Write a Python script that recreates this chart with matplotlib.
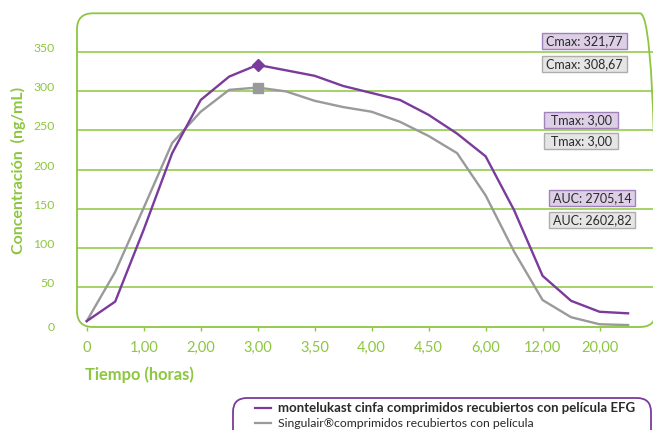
import numpy as np
import matplotlib
matplotlib.use("Agg")
import matplotlib.pyplot as plt
from matplotlib.patches import FancyBboxPatch, Rectangle
from matplotlib.lines import Line2D
from matplotlib.transforms import IdentityTransform, ScaledTranslation

# ---------------- data ----------------
time_labels = ["0", "0,50", "1,00", "1,50", "2,00", "2,50", "3,00", "3,25", "3,50", "3,75",
               "4,00", "4,25", "4,50", "5,00", "6,00", "8,00", "12,00", "16,00", "20,00", "24,00"]
montelukast_cinfa = [6, 31, 123, 221, 289, 319, 334, 327, 320, 307,
                     298, 289, 270, 246, 217, 148, 64, 32, 18, 16]
singulair = [6, 69, 151, 234, 274, 302, 305, 300, 288, 280,
             274, 261, 243, 221, 167, 95, 33, 11, 2, 1]
y_ticks = [0, 50, 100, 150, 200, 250, 300, 350]
series_names = ["montelukast cinfa comprimidos recubiertos con película EFG",
                "Singulair®comprimidos recubiertos con película"]
stats_test = ["Cmax: 321,77", "Tmax: 3,00", "AUC: 2705,14"]
stats_ref = ["Cmax: 308,67", "Tmax: 3,00", "AUC: 2602,82"]

# ---------------- style ----------------
GREEN = "#8DC63F"
PURPLE = "#7A3B9C"
GRAY = "#9A9A9A"
P_FILL, P_EDGE = "#DCCFE6", "#A083BA"
G_FILL, G_EDGE = "#E5E5E5", "#ADADAD"
TXT = "#2A2A2A"
FONT = "Lato"
plt.rcParams["font.family"] = [FONT, "DejaVu Sans"]

W, H = 653, 430
fig = plt.figure(figsize=(W / 100, H / 100), dpi=100)

def fx(px):
    return px / W

def fy(py):
    return 1 - py / H

BOX_L, BOX_R, BOX_T, BOX_B = 77, 656, 13.3, 327
ax = fig.add_axes([fx(BOX_L), fy(BOX_B), (BOX_R - BOX_L) / W, (BOX_B - BOX_T) / H])
ax.patch.set_visible(False)
for s in ax.spines.values():
    s.set_visible(False)

x = np.arange(len(time_labels))
ax.set_xlim(-0.34, 19.98)
ax.set_ylim(-1.5, 400)

# rounded plot frame
frame = FancyBboxPatch((BOX_L, H - BOX_B), BOX_R - BOX_L, BOX_B - BOX_T,
                       boxstyle="round,pad=0,rounding_size=16",
                       transform=IdentityTransform(), fill=False,
                       ec=GREEN, lw=1.3, zorder=1)
fig.add_artist(frame)

# grid lines
ax.hlines([v for v in y_ticks if v > 0], 0, 1, transform=ax.get_yaxis_transform(),
          color=GREEN, lw=1.1, zorder=1)

# series
ax.plot(x, montelukast_cinfa, color=PURPLE, lw=1.7, zorder=3)
ax.plot(x, singulair, color=GRAY, lw=1.7, zorder=2)
ip = int(np.argmax(montelukast_cinfa))
ig = int(np.argmax(singulair))
ax.plot(x[ip], montelukast_cinfa[ip], marker="D", ms=6.5, color=PURPLE, zorder=4)
ax.plot(x[ig], singulair[ig], marker="s", ms=6.5, color=GRAY, zorder=4)

# x ticks
ax.set_xticks(x[::2])
ax.set_xticklabels(time_labels[::2])
ax.tick_params(axis="x", length=3, width=1, color=GREEN, labelcolor=GREEN,
               labelsize=10.5, pad=7, direction="out")
# y ticks
ax.set_yticks(y_ticks)
ax.set_yticklabels([str(v) for v in y_ticks])
ax.tick_params(axis="y", length=0, labelcolor=GREEN, labelsize=8.8, pad=16)
for lab, v in zip(ax.get_yticklabels(), y_ticks):
    dy = 4.5 if v > 0 else -1.0
    lab.set_transform(lab.get_transform() + ScaledTranslation(0, dy / 100, fig.dpi_scale_trans))

ax.set_ylabel("Concentración  (ng/mL)", color=GREEN, fontsize=11.5, fontweight="bold",
              va="center")
ax.yaxis.set_label_coords((18 - BOX_L) / (BOX_R - BOX_L), (BOX_B - 170) / (BOX_B - BOX_T))
ax.set_xlabel("Tiempo (horas)", color=GREEN, fontsize=11.9, fontweight="bold",
              ha="left", va="center")
ax.xaxis.set_label_coords((85 - BOX_L) / (BOX_R - BOX_L), (BOX_B - 375) / (BOX_B - BOX_T))

# stat boxes (pixel layout: left, top, width, height)
box_specs = [
    (stats_test[0], 541.7, 33.3, 85.6, 16, P_FILL, P_EDGE),
    (stats_ref[0], 541.7, 56.0, 85.6, 16, G_FILL, G_EDGE),
    (stats_test[1], 544.3, 111.7, 74, 16, P_FILL, P_EDGE),
    (stats_ref[1], 544.3, 133.3, 74, 16, G_FILL, G_EDGE),
    (stats_test[2], 549.3, 190.0, 85.7, 16, P_FILL, P_EDGE),
    (stats_ref[2], 549.3, 211.7, 85.7, 16, G_FILL, G_EDGE),
]
for txt, l, t, w, h, fc, ec in box_specs:
    r = Rectangle((l, H - t - h), w, h, transform=IdentityTransform(), fc=fc, ec=ec, lw=1.0, zorder=5)
    fig.add_artist(r)
    fig.text(fx(l + w / 2), fy(t + h / 2), txt, ha="center", va="center",
             fontsize=9.0, color=TXT, zorder=6)

# legend
leg = FancyBboxPatch((233, H - 445), 418, 47, boxstyle="round,pad=0,rounding_size=14",
                     transform=IdentityTransform(), fill=False, ec=PURPLE, lw=1.3)
fig.add_artist(leg)
for (name, col, yy, wt, fs) in [(series_names[0], PURPLE, 408.3, "bold", 9.5),
                                (series_names[1], GRAY, 423.3, "normal", 8.8)]:
    fig.add_artist(Line2D([255, 271], [H - yy, H - yy], transform=IdentityTransform(),
                          color=col, lw=1.6))
    fig.text(fx(278), fy(yy), name, ha="left", va="center", fontsize=fs,
             fontweight=wt, color=TXT)

fig.savefig("out.png", dpi=100)
